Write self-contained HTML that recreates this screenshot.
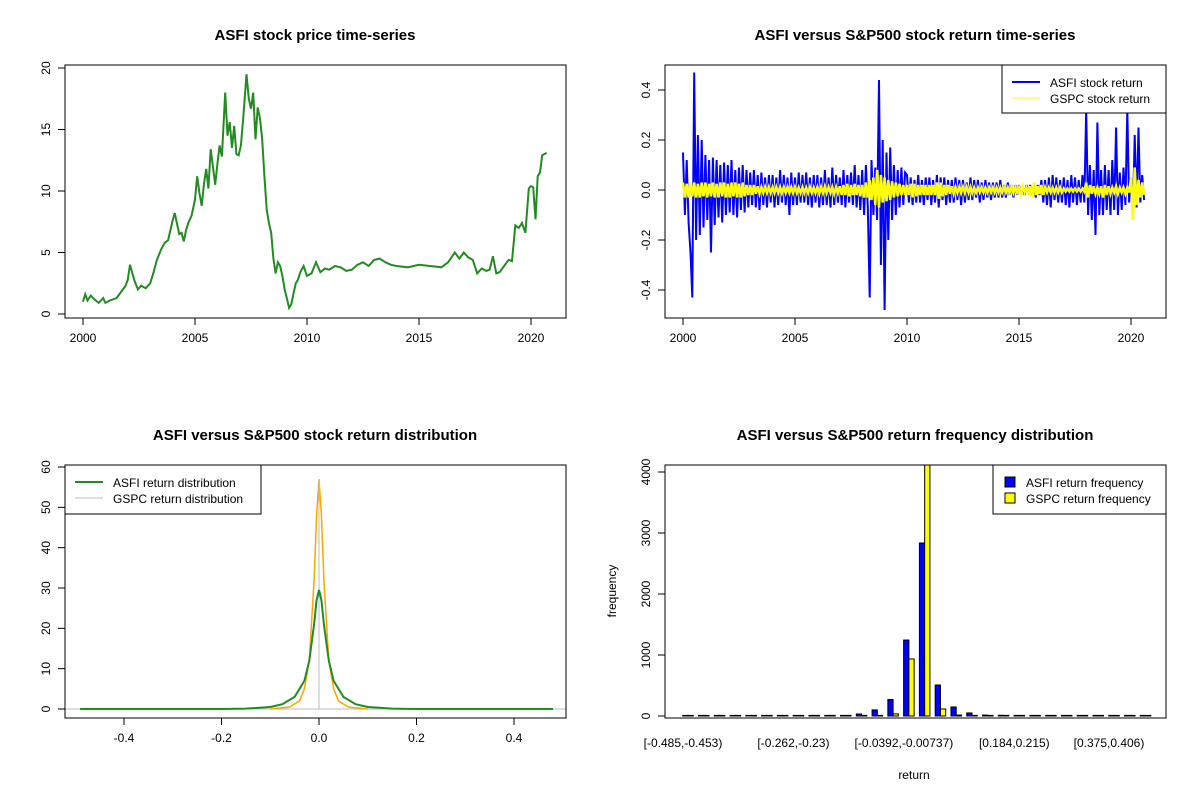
<!DOCTYPE html>
<html><head><meta charset="utf-8"><style>
body{margin:0;background:#fff;}
svg{display:block;font-family:"Liberation Sans",Arial,sans-serif;}
</style></head><body>
<svg id="c" width="1200" height="800"></svg>
<script>
// ---- Panel 1 data: ASFI price ----
const priceYears = [2000.0,2000.1,2000.2,2000.35,2000.5,2000.7,2000.9,2001.0,2001.2,2001.5,2001.7,2001.9,2002.0,2002.1,2002.3,2002.45,2002.6,2002.8,2003.0,2003.15,2003.3,2003.5,2003.65,2003.8,2004.0,2004.1,2004.2,2004.3,2004.4,2004.5,2004.6,2004.7,2004.85,2005.0,2005.1,2005.2,2005.3,2005.4,2005.5,2005.6,2005.7,2005.8,2005.9,2006.0,2006.1,2006.2,2006.35,2006.45,2006.55,2006.65,2006.75,2006.85,2006.95,2007.05,2007.15,2007.3,2007.4,2007.5,2007.6,2007.7,2007.8,2007.9,2008.0,2008.1,2008.2,2008.3,2008.4,2008.5,2008.6,2008.7,2008.8,2008.9,2009.0,2009.1,2009.2,2009.3,2009.4,2009.5,2009.6,2009.7,2009.85,2010.0,2010.2,2010.4,2010.6,2010.8,2011.0,2011.25,2011.5,2011.75,2012.0,2012.25,2012.5,2012.75,2013.0,2013.25,2013.5,2013.75,2014.0,2014.5,2015.0,2015.5,2016.0,2016.3,2016.6,2016.8,2017.0,2017.2,2017.4,2017.6,2017.8,2018.0,2018.15,2018.3,2018.45,2018.6,2018.8,2019.0,2019.15,2019.3,2019.45,2019.6,2019.75,2019.9,2020.0,2020.1,2020.2,2020.3,2020.4,2020.5,2020.7];
const priceASFI = [1.0,1.6,1.1,1.5,1.2,0.9,1.3,0.9,1.1,1.3,1.8,2.3,2.8,4.0,2.7,2.0,2.3,2.1,2.5,3.4,4.4,5.3,5.8,6.0,7.6,8.2,7.3,6.5,6.6,5.9,6.8,7.4,8.0,9.3,11.2,9.8,8.8,10.6,11.8,10.2,13.4,12.0,10.5,12.2,13.7,12.8,18.0,14.5,15.6,13.5,15.3,13.0,12.9,13.7,15.9,19.5,17.5,16.7,18.0,14.2,16.8,15.9,14.2,11.2,8.5,7.4,6.6,4.5,3.3,4.2,3.9,3.1,2.0,1.3,0.5,0.8,1.7,2.5,2.8,3.4,3.9,3.1,3.3,4.2,3.4,3.7,3.6,3.9,3.8,3.5,3.6,4.0,4.2,3.9,4.4,4.5,4.2,4.0,3.9,3.8,4.0,3.9,3.8,4.2,5.0,4.5,5.0,4.6,4.4,3.3,3.7,3.5,3.6,4.7,3.3,3.4,3.9,4.4,4.3,7.2,7.0,7.4,6.6,10.2,10.4,10.3,7.7,11.2,11.5,12.9,13.1];
// ---- Panel 2 data: returns (monthly step from 2000) ----
const retStart = 2000, retStep = 1/12;
const retASFI = [
0.15,-0.1,0.12,-0.13,-0.25,-0.43,0.47,-0.2,0.22,-0.18,0.2,-0.15,
0.14,-0.12,0.12,-0.25,0.13,-0.14,0.12,-0.11,0.1,-0.13,0.11,-0.1,
0.1,-0.09,0.12,-0.1,0.08,-0.11,0.09,-0.08,0.1,-0.09,0.08,-0.07,
0.07,-0.06,0.08,-0.07,0.06,-0.08,0.07,-0.06,0.05,-0.07,0.06,-0.05,
0.06,-0.07,0.05,-0.06,0.08,-0.05,0.06,-0.06,0.05,-0.1,0.07,-0.06,
0.05,-0.06,0.07,-0.05,0.06,-0.05,0.07,-0.06,0.05,-0.07,0.06,-0.05,
0.06,-0.07,0.05,-0.06,0.08,-0.06,0.05,-0.07,0.09,-0.06,0.06,-0.05,
0.05,-0.06,0.08,-0.07,0.06,-0.05,0.07,-0.06,0.1,-0.07,0.06,-0.08,
0.08,-0.1,0.1,-0.07,-0.43,0.12,-0.1,0.09,-0.12,0.44,-0.3,0.2,
-0.48,0.15,-0.2,0.17,-0.12,0.1,-0.1,0.08,-0.07,0.09,-0.06,0.07,
0.06,-0.05,0.05,-0.06,0.04,-0.05,0.06,-0.05,0.04,-0.06,0.05,-0.04,
0.05,-0.06,0.04,-0.05,0.06,-0.07,0.05,-0.04,0.05,-0.06,0.04,-0.05,
0.04,-0.05,0.05,-0.04,0.04,-0.06,0.04,-0.05,0.03,-0.04,0.05,-0.04,
0.04,-0.03,0.04,-0.05,0.03,-0.04,0.04,-0.03,0.03,-0.04,0.03,-0.03,
0.03,-0.03,0.04,-0.03,0.02,-0.03,0.03,-0.02,0.02,-0.03,0.02,-0.02,
0.02,-0.02,0.01,-0.02,0.02,-0.01,0.02,-0.02,0.01,-0.03,0.02,-0.02,
0.04,-0.05,0.04,-0.06,0.05,-0.07,0.06,-0.04,0.05,-0.05,0.04,-0.05,
0.05,-0.06,0.04,-0.07,0.06,-0.05,0.05,-0.06,0.04,-0.05,0.06,-0.05,
0.32,-0.1,0.1,-0.12,0.08,-0.18,0.27,-0.1,0.08,-0.1,0.1,-0.08,
0.08,-0.1,0.12,-0.08,0.25,-0.1,0.07,-0.08,0.09,-0.06,0.32,-0.05,
0.05,-0.1,0.22,-0.07,0.25,-0.05,0.06,-0.04];
const retGSPC = [
0.03,-0.03,0.025,-0.03,0.03,-0.025,0.03,-0.03,0.025,-0.03,0.03,-0.025,
0.03,-0.03,0.025,-0.025,0.03,-0.03,0.025,-0.03,0.03,-0.025,0.03,-0.03,
0.025,-0.03,0.03,-0.025,0.03,-0.03,0.025,-0.03,0.03,-0.025,0.02,-0.02,
0.02,-0.02,0.02,-0.015,0.015,-0.015,0.012,-0.012,0.012,-0.012,0.012,-0.012,
0.012,-0.012,0.012,-0.012,0.012,-0.012,0.012,-0.012,0.012,-0.012,0.012,-0.012,
0.012,-0.012,0.01,-0.012,0.012,-0.012,0.01,-0.012,0.012,-0.012,0.01,-0.012,
0.012,-0.015,0.012,-0.012,0.015,-0.012,0.012,-0.012,0.012,-0.015,0.012,-0.012,
0.015,-0.02,0.02,-0.02,0.025,-0.025,0.02,-0.02,0.025,-0.02,0.02,-0.025,
0.02,-0.03,0.03,-0.03,0.04,-0.04,0.05,-0.06,0.08,-0.07,0.06,-0.05,
0.05,-0.045,0.04,-0.04,0.035,-0.03,0.03,-0.025,0.025,-0.02,0.02,-0.02,
0.02,-0.02,0.025,-0.03,0.025,-0.025,0.02,-0.02,0.02,-0.02,0.02,-0.02,
0.02,-0.02,0.02,-0.02,0.03,-0.035,0.03,-0.025,0.02,-0.02,0.02,-0.015,
0.015,-0.015,0.012,-0.012,0.012,-0.012,0.012,-0.012,0.012,-0.012,0.012,-0.012,
0.01,-0.01,0.01,-0.01,0.01,-0.01,0.01,-0.01,0.01,-0.01,0.01,-0.01,
0.01,-0.01,0.01,-0.01,0.01,-0.01,0.01,-0.01,0.012,-0.012,0.01,-0.01,
0.01,-0.015,0.015,-0.01,0.01,-0.01,0.015,-0.03,0.03,-0.02,0.015,-0.015,
0.02,-0.02,0.01,-0.01,0.01,-0.01,0.01,-0.01,0.01,-0.01,0.01,-0.01,
0.006,-0.006,0.006,-0.006,0.006,-0.006,0.006,-0.006,0.006,-0.006,0.006,-0.006,
0.03,-0.03,0.02,-0.015,0.015,-0.015,0.01,-0.015,0.015,-0.03,0.02,-0.02,
0.015,-0.015,0.01,-0.01,0.015,-0.015,0.01,-0.01,0.01,-0.015,0.01,-0.01,
0.05,-0.12,0.09,-0.06,0.04,-0.03,0.03,-0.02];
// ---- Panel 3 data: densities ----
const densX_ASFI = [-0.49,-0.2,-0.15,-0.1,-0.075,-0.05,-0.03,-0.02,-0.01,-0.005,0,0.005,0.01,0.02,0.03,0.05,0.075,0.1,0.15,0.2,0.48];
const densY_ASFI = [0,0,0.1,0.5,1.2,3,7,12,21,27,29.5,27,21,12,7,3,1.2,0.5,0.1,0,0];
const densX_GSPC = [-0.1,-0.06,-0.04,-0.03,-0.02,-0.01,-0.005,0,0.005,0.01,0.02,0.03,0.04,0.06,0.1];
const densY_GSPC = [0,0.5,2,5,12,32,48,57,48,32,12,5,2,0.5,0];
// ---- Panel 4 data: histogram bins ----
const binLabels = ["[-0.485,-0.453)","[-0.262,-0.23)","[-0.0392,-0.00737)","[0.184,0.215)","[0.375,0.406)"];
const binLabelIdx = [0,7,14,21,27];
const freqASFI = [0,0,0,0,0,0,0,0,8,10,10,33,100,270,1245,2836,508,148,50,15,12,0,8,0,0,0,0,0,0,0];
const freqGSPC = [0,0,0,0,0,0,0,0,0,0,0,2,5,35,935,4600,115,15,8,0,0,0,0,0,0,0,0,0,0,0];

const NS="http://www.w3.org/2000/svg";
const svg=document.getElementById('c');
function el(tag,attrs,parent,text){const e=document.createElementNS(NS,tag);for(const k in attrs)e.setAttribute(k,attrs[k]);if(text!==undefined)e.textContent=text;(parent||svg).appendChild(e);return e;}
function lin(d0,d1,r0,r1){return v=>r0+(v-d0)*(r1-r0)/(d1-d0);}
function frame(g,x0,y0,x1,y1){const r=el('rect',{x:x0,y:y0,width:x1-x0,height:y1-y0,fill:'none',stroke:'#000','stroke-width':1},g);}
function title(g,x,y,t){const e=el('text',{x:x,y:y,'text-anchor':'middle','font-size':15,'font-weight':'bold'},g,t);}
function xAxis(g,ticks,labels,sx,y){const ax=el('g',{},g);
 el('line',{x1:sx(ticks[0]),x2:sx(ticks[ticks.length-1]),y1:y,y2:y,stroke:'#000'},ax);
 ticks.forEach((t,i)=>{el('line',{x1:sx(t),x2:sx(t),y1:y,y2:y+7,stroke:'#000'},ax);const l=el('text',{x:sx(t),y:y+24,'text-anchor':'middle','font-size':12},ax,labels[i]);});}
function yAxis(g,ticks,labels,sy,x){const ax=el('g',{},g);
 el('line',{x1:x,x2:x,y1:sy(ticks[0]),y2:sy(ticks[ticks.length-1]),stroke:'#000'},ax);
 ticks.forEach((t,i)=>{el('line',{x1:x-7,x2:x,y1:sy(t),y2:sy(t),stroke:'#000'},ax);const l=el('text',{x:x-15,y:sy(t),'text-anchor':'middle','font-size':12,transform:`rotate(-90 ${x-15} ${sy(t)})`},ax,labels[i]);});}
function pathD(xs,ys,sx,sy){return xs.map((x,i)=>(i?'L':'M')+sx(x).toFixed(1)+','+sy(ys[i]).toFixed(1)).join('');}

// Panel 1
{const g=el('g',{});
 const sx=lin(2000,2020,83,531), sy=lin(0,20,314,68);
 title(g,315,40,'ASFI stock price time-series');
 const p=el('path',{d:pathD(priceYears,priceASFI,sx,sy),fill:'none',stroke:'#228B22','stroke-width':2},g);
 frame(g,65,65,566,318);
 xAxis(g,[2000,2005,2010,2015,2020],['2000','2005','2010','2015','2020'],sx,318);
 yAxis(g,[0,5,10,15,20],['0','5','10','15','20'],sy,65);}

// Panel 2
{const g=el('g',{});
 const sx=lin(2000,2020,683,1131), sy=lin(-0.4,0.4,290,90);
 title(g,915,40,'ASFI versus S&P500 stock return time-series');
 const yrs=retASFI.map((_,i)=>retStart+i*retStep);
 const a=el('path',{d:pathD(yrs,retASFI,sx,sy),fill:'none',stroke:'#0000ff','stroke-width':2},g);
 const yrs2=retGSPC.map((_,i)=>retStart+i*retStep);
 const b=el('path',{d:pathD(yrs2,retGSPC,sx,sy),fill:'none',stroke:'#ffff00','stroke-width':2.5},g);
 frame(g,665,65,1166,318);
 xAxis(g,[2000,2005,2010,2015,2020],['2000','2005','2010','2015','2020'],sx,318);
 yAxis(g,[-0.4,-0.2,0,0.2,0.4],['-0.4','-0.2','0.0','0.2','0.4'],sy,665);
 const lg=el('g',{},g);
 el('rect',{x:1002,y:65,width:164,height:48,fill:'#fff',stroke:'#000'},lg);
 el('line',{x1:1012,x2:1040,y1:82,y2:82,stroke:'#0000ff','stroke-width':2},lg);
 el('text',{x:1050,y:87,'font-size':12},lg,'ASFI stock return');
 el('line',{x1:1012,x2:1040,y1:98,y2:98,stroke:'#ffff00','stroke-width':1},lg);
 el('text',{x:1050,y:103,'font-size':12},lg,'GSPC stock return');}

// Panel 3
{const g=el('g',{});
 const sx=lin(-0.4,0.4,124,514), sy=lin(0,60,709,467);
 title(g,315,440,'ASFI versus S&P500 stock return distribution');
 el('line',{x1:65,x2:566,y1:sy(0),y2:sy(0),stroke:'#bebebe'},g);
 const o=el('path',{d:pathD(densX_GSPC,densY_GSPC,sx,sy),fill:'none',stroke:'#FFA500','stroke-width':1.5},g);
 el('line',{x1:sx(0),x2:sx(0),y1:sy(0),y2:sy(57),stroke:'#bebebe','stroke-width':1},g);
 const gr=el('path',{d:pathD(densX_ASFI,densY_ASFI,sx,sy),fill:'none',stroke:'#228B22','stroke-width':2},g);
 frame(g,65,465,566,718);
 xAxis(g,[-0.4,-0.2,0,0.2,0.4],['-0.4','-0.2','0.0','0.2','0.4'],sx,718);
 yAxis(g,[0,10,20,30,40,50,60],['0','10','20','30','40','50','60'],sy,65);
 const lg=el('g',{},g);
 el('rect',{x:65,y:465,width:196,height:49,fill:'#fff',stroke:'#000'},lg);
 el('line',{x1:75,x2:103,y1:482,y2:482,stroke:'#228B22','stroke-width':2},lg);
 el('text',{x:113,y:487,'font-size':12},lg,'ASFI return distribution');
 el('line',{x1:75,x2:103,y1:498,y2:498,stroke:'#bebebe','stroke-width':1},lg);
 el('text',{x:113,y:503,'font-size':12},lg,'GSPC return distribution');}

// Panel 4
{const g=el('g',{});
 const groupW=(1109-683)/27, unit=groupW/3;
 const lx=i=>683+i*groupW; // label center
 const cx=i=>688+i*groupW; // bar group center
 const sy=lin(0,4000,716,472);
 title(g,915,440,'ASFI versus S&P500 return frequency distribution');
 const clip=el('clipPath',{id:'hc'},g);el('rect',{x:665,y:465,width:501,height:253},clip);
 const bars=el('g',{'clip-path':'url(#hc)'},g);
 freqASFI.forEach((v,i)=>{const h=Math.max(sy(0)-sy(v),0.6);const r=el('rect',{x:cx(i)-unit,y:sy(0)-h,width:unit,height:h,fill:'#0000ff',stroke:'#000','stroke-width':1},bars);});
 freqGSPC.forEach((v,i)=>{const h=Math.max(sy(0)-sy(v),0.6);const r=el('rect',{x:cx(i),y:sy(0)-h,width:unit,height:h,fill:'#ffff00',stroke:'#000','stroke-width':1},bars);});
 frame(g,665,465,1166,718);
 binLabelIdx.forEach((b,k)=>{const t=el('text',{x:lx(b),y:747,'text-anchor':'middle','font-size':12},g,binLabels[k]);});
 yAxis(g,[0,1000,2000,3000,4000],['0','1000','2000','3000','4000'],sy,665);
 const xl=el('text',{x:914,y:779,'text-anchor':'middle','font-size':12},g,'return');
 const yl=el('text',{x:616,y:591,'text-anchor':'middle','font-size':12,transform:'rotate(-90 616 591)'},g,'frequency');
 const lg=el('g',{},g);
 el('rect',{x:993,y:465,width:173,height:49,fill:'#fff',stroke:'#000'},lg);
 el('rect',{x:1005,y:477,width:10,height:10,fill:'#0000ff',stroke:'#000'},lg);
 el('text',{x:1026,y:487,'font-size':12},lg,'ASFI return frequency');
 el('rect',{x:1005,y:493,width:10,height:10,fill:'#ffff00',stroke:'#000'},lg);
 el('text',{x:1026,y:503,'font-size':12},lg,'GSPC return frequency');}
</script>
</body></html>
